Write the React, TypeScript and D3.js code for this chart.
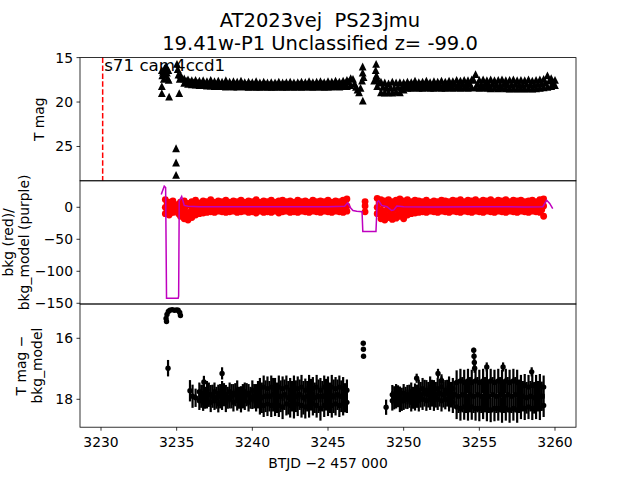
import React from 'react';
import * as d3 from 'd3';

// ---------- axis ticks ----------
const X_TICKS = [3230, 3235, 3240, 3245, 3250, 3255, 3260];
const TOP_TICKS = [15, 20, 25];
const MID_TICKS = [0, -50, -100, -150];
const BOT_TICKS = [16, 18];

const TITLE1 = 'AT2023vej  PS23jmu';
const TITLE2 = '19.41w-P1 Unclassified z= -99.0';
const SECTOR_LABEL = 's71 cam4ccd1';
const SECTOR_START = 3230.11;

// ---------- top panel: T mag (triangles) ----------
const topT = [3234.02, 3234.05, 3234.02, 3234.02, 3234.1, 3234.15, 3234.2, 3234.25, 3234.3, 3234.35, 3234.4, 3234.45, 3234.47, 3234.5,
  3234.96, 3234.96, 3234.96, 3235.02, 3235.07, 3235.12, 3235.17, 3235.2, 3235.27, 3235.35,
  3246.65, 3246.75, 3246.85, 3246.95, 3247.05, 3247.15, 3247.25, 3247.29, 3247.29, 3247.3, 3247.35, 3248.05, 3248.15, 3248.18, 3248.2];
const topM = [16.4, 17.0, 18.2, 19.0, 16.6, 17.4, 16.2, 16.9, 16.0, 16.7, 17.3, 16.4, 17.5, 19.4,
  25.2, 26.8, 28.2, 15.7, 16.3, 16.9, 19.0, 17.4, 17.0, 17.3,
  17.4, 17.9, 18.3, 18.6, 18.9, 18.4, 17.6, 16.0, 16.7, 19.85, 17.2, 17.6, 16.4, 15.7, 17.0];

const topBandT = [3235.5, 3235.75, 3236, 3236.25, 3236.5, 3236.75, 3237, 3237.25, 3237.5, 3237.75, 3238, 3238.25, 3238.5, 3238.75, 3239, 3239.25, 3239.5, 3239.75, 3240, 3240.25, 3240.5, 3240.75, 3241, 3241.25, 3241.5, 3241.75, 3242, 3242.25, 3242.5, 3242.75, 3243, 3243.25, 3243.5, 3243.75, 3244, 3244.25, 3244.5, 3244.75, 3245, 3245.25, 3245.5, 3245.75, 3246, 3246.25, 3246.5,
  3248.25, 3248.5, 3248.75, 3249, 3249.25, 3249.5, 3249.75, 3250, 3250.25, 3250.5, 3250.75, 3251, 3251.25, 3251.5, 3251.75, 3252, 3252.25, 3252.5, 3252.75, 3253, 3253.25, 3253.5, 3253.75, 3254, 3254.25, 3254.5, 3254.75, 3255, 3255.25, 3255.5, 3255.75, 3256, 3256.25, 3256.5, 3256.75, 3257, 3257.25, 3257.5, 3257.75, 3258, 3258.25, 3258.5, 3258.75, 3259, 3259.25, 3259.5, 3259.75, 3260];
const topBandHi = [17.35, 17.45, 17.55, 17.5, 17.6, 17.55, 17.65, 17.5, 17.65, 17.6, 17.7, 17.55, 17.7, 17.65, 17.7, 17.6, 17.75, 17.7, 17.75, 17.65, 17.8, 17.7, 17.8, 17.75, 17.8, 17.7, 17.8, 17.75, 17.7, 17.8, 17.75, 17.7, 17.75, 17.65, 17.75, 17.7, 17.65, 17.75, 17.65, 17.7, 17.6, 17.7, 17.6, 17.5, 17.3,
  17.4, 17.7, 17.8, 17.9, 17.7, 17.8, 17.75, 17.8, 17.7, 17.75, 17.6, 17.75, 17.7, 17.6, 17.75, 17.65, 17.7, 17.6, 17.7, 17.6, 17.65, 17.5, 17.6, 17.5, 17.55, 17.45, 16.85, 17.5, 17.45, 17.55, 17.45, 17.55, 17.5, 17.45, 17.55, 17.5, 17.45, 17.55, 17.5, 17.55, 17.45, 17.6, 17.5, 17.45, 17.4, 17.0, 17.3, 17.5];
const topBandLo = [17.85, 17.95, 18, 18.05, 18.1, 18.1, 18.15, 18.15, 18.2, 18.2, 18.2, 18.25, 18.2, 18.25, 18.25, 18.2, 18.25, 18.3, 18.25, 18.3, 18.3, 18.25, 18.3, 18.3, 18.3, 18.25, 18.3, 18.3, 18.25, 18.3, 18.25, 18.3, 18.25, 18.25, 18.3, 18.25, 18.25, 18.3, 18.25, 18.25, 18.2, 18.25, 18.2, 18.2, 18.1,
  18.2, 18.9, 18.95, 18.9, 18.95, 18.85, 18.9, 18.6, 18.4, 18.4, 18.35, 18.4, 18.4, 18.35, 18.4, 18.4, 18.35, 18.4, 18.4, 18.35, 18.4, 18.35, 18.4, 18.35, 18.4, 18.35, 18.35, 18.4, 18.35, 18.4, 18.45, 18.4, 18.45, 18.4, 18.45, 18.5, 18.45, 18.5, 18.45, 18.5, 18.45, 18.5, 18.45, 18.4, 18.35, 18.3, 18.2, 18.1];
const topT2 = [3235.625, 3235.875, 3236.125, 3236.375, 3236.625, 3236.875, 3237.125, 3237.375, 3237.625, 3237.875, 3238.125, 3238.375, 3238.625, 3238.875, 3239.125, 3239.375, 3239.625, 3239.875, 3240.125, 3240.375, 3240.625, 3240.875, 3241.125, 3241.375, 3241.625, 3241.875, 3242.125, 3242.375, 3242.625, 3242.875, 3243.125, 3243.375, 3243.625, 3243.875, 3244.125, 3244.375, 3244.625, 3244.875, 3245.125, 3245.375, 3245.625, 3245.875, 3246.125, 3246.375,
  3248.375, 3248.625, 3248.875, 3249.125, 3249.375, 3249.625, 3249.875, 3250.125, 3250.375, 3250.625, 3250.875, 3251.125, 3251.375, 3251.625, 3251.875, 3252.125, 3252.375, 3252.625, 3252.875, 3253.125, 3253.375, 3253.625, 3253.875, 3254.125, 3254.375, 3254.625, 3254.875, 3255.125, 3255.375, 3255.625, 3255.875, 3256.125, 3256.375, 3256.625, 3256.875, 3257.125, 3257.375, 3257.625, 3257.875, 3258.125, 3258.375, 3258.625, 3258.875, 3259.125, 3259.375, 3259.625, 3259.875];
const topM2 = [17.6, 17.7, 17.8, 17.85, 17.9, 17.95, 18.0, 17.95, 18.0, 18.05, 18.0, 17.95, 18.05, 18.0, 18.0, 17.95, 18.05, 18.0, 18.05, 18.0, 18.05, 18.0, 18.05, 18.05, 18.0, 18.05, 18.0, 18.05, 18.0, 18.05, 18.0, 18.05, 18.0, 17.95, 18.05, 18.0, 17.95, 18.0, 17.95, 18.0, 17.95, 17.9, 17.85, 17.7,
  17.8, 18.3, 18.4, 18.35, 18.4, 18.3, 18.35, 18.1, 18.05, 18.0, 18.05, 18.0, 18.05, 18.0, 18.05, 18.0, 18.0, 18.05, 18.0, 18.0, 17.95, 18.0, 17.95, 18.0, 17.95, 17.5, 17.95, 18.0, 17.95, 18.0, 17.95, 18.0, 18.05, 17.95, 18.0, 18.05, 17.95, 18.0, 18.05, 17.95, 18.0, 18.05, 17.95, 17.9, 17.8, 17.6, 17.8];

// ---------- middle panel: bkg (red dots) and bkg_model (purple line) ----------
const midT = [3234.25, 3234.5, 3234.75, 3235, 3235.25, 3235.5, 3235.75, 3236, 3236.25, 3236.5, 3236.75, 3237, 3237.25, 3237.5, 3237.75, 3238, 3238.25, 3238.5, 3238.75, 3239, 3239.25, 3239.5, 3239.75, 3240, 3240.25, 3240.5, 3240.75, 3241, 3241.25, 3241.5, 3241.75, 3242, 3242.25, 3242.5, 3242.75, 3243, 3243.25, 3243.5, 3243.75, 3244, 3244.25, 3244.5, 3244.75, 3245, 3245.25, 3245.5, 3245.75, 3246, 3246.25,
  3248.25, 3248.5, 3248.75, 3249, 3249.25, 3249.5, 3249.75, 3250, 3250.25, 3250.5, 3250.75, 3251, 3251.25, 3251.5, 3251.75, 3252, 3252.25, 3252.5, 3252.75, 3253, 3253.25, 3253.5, 3253.75, 3254, 3254.25, 3254.5, 3254.75, 3255, 3255.25, 3255.5, 3255.75, 3256, 3256.25, 3256.5, 3256.75, 3257, 3257.25, 3257.5, 3257.75, 3258, 3258.25, 3258.5, 3258.75, 3259, 3259.25];
const midHi = [12, 8, 10, 3, 8, 10, 6, 9, 11, 7, 10, 9, 12, 8, 10, 9, 11, 8, 10, 9, 11, 8, 10, 9, 12, 8, 10, 9, 11, 8, 10, 11, 9, 10, 8, 11, 9, 10, 8, 11, 9, 10, 9, 11, 8, 10, 9, 11, 13,
  14, 12, 10, 12, 9, 11, 13, 10, 12, 9, 11, 10, 9, 11, 8, 10, 9, 11, 10, 9, 11, 10, 12, 9, 11, 10, 12, 9, 11, 10, 12, 9, 11, 10, 12, 9, 11, 10, 11, 9, 10, 11, 9, 12, 13];
const midMid = [0, -3, 2, -2, -4, -6, -8, -4, -2, -3, 0, -1, 1, 0, 2, 0, 1, -1, 1, 0, 2, 0, 1, 0, 2, 1, 0, 1, 0, 2, 0, 1, 0, 2, 0, 1, 0, 2, 1, 0, 1, 0, 2, 0, 1, 0, 1, 0, 2,
  0, -4, -6, -2, -5, -3, -1, -4, -2, 0, -1, 1, 0, 1, 0, 2, 0, 1, 0, 2, 0, 1, 0, 2, 0, 1, 0, 2, 1, 0, 1, 0, 2, 0, 1, 0, 2, 0, 1, 0, 2, 0, 1, 0, 2];
const midLo = [-10, -12, -8, -6, -14, -18, -20, -16, -12, -10, -9, -8, -7, -8, -6, -7, -8, -7, -6, -8, -7, -6, -8, -7, -9, -6, -8, -7, -8, -6, -9, -7, -6, -8, -7, -8, -6, -7, -8, -6, -7, -8, -6, -7, -8, -6, -7, -8, -6,
  -10, -18, -20, -16, -19, -17, -14, -18, -12, -10, -9, -8, -7, -8, -6, -7, -8, -6, -7, -8, -6, -7, -8, -6, -7, -8, -6, -7, -8, -6, -7, -8, -6, -7, -8, -6, -7, -8, -6, -7, -8, -6, -7, -8, -14];
const midT2 = [3234.375, 3234.625, 3234.875, 3235.125, 3235.375, 3235.625, 3235.875, 3236.125, 3236.375, 3236.625, 3236.875, 3237.125, 3237.375, 3237.625, 3237.875, 3238.125, 3238.375, 3238.625, 3238.875, 3239.125, 3239.375, 3239.625, 3239.875, 3240.125, 3240.375, 3240.625, 3240.875, 3241.125, 3241.375, 3241.625, 3241.875, 3242.125, 3242.375, 3242.625, 3242.875, 3243.125, 3243.375, 3243.625, 3243.875, 3244.125, 3244.375, 3244.625, 3244.875, 3245.125, 3245.375, 3245.625, 3245.875, 3246.125,
  3248.375, 3248.625, 3248.875, 3249.125, 3249.375, 3249.625, 3249.875, 3250.125, 3250.375, 3250.625, 3250.875, 3251.125, 3251.375, 3251.625, 3251.875, 3252.125, 3252.375, 3252.625, 3252.875, 3253.125, 3253.375, 3253.625, 3253.875, 3254.125, 3254.375, 3254.625, 3254.875, 3255.125, 3255.375, 3255.625, 3255.875, 3256.125, 3256.375, 3256.625, 3256.875, 3257.125, 3257.375, 3257.625, 3257.875, 3258.125, 3258.375, 3258.625, 3258.875, 3259.125];
const midA2 = [6, 4, -1, 5, 3, 2, 4, 6, 5, 4, 6, 5, 4, 6, 5, 4, 6, 5, 4, 6, 5, 4, 6, 5, 4, 6, 5, 4, 6, 5, 4, 6, 5, 4, 6, 5, 4, 6, 5, 4, 6, 5, 4, 6, 5, 4, 6, 7,
  7, 5, 4, 6, 3, 5, 7, 4, 6, 5, 4, 6, 5, 4, 6, 5, 4, 6, 5, 4, 6, 5, 4, 6, 5, 4, 6, 5, 4, 6, 5, 4, 6, 5, 4, 6, 5, 4, 6, 5, 4, 6, 5, 7];
const midB2 = [-6, -8, -4, -10, -12, -14, -12, -9, -6, -5, -4, -3, -4, -5, -3, -4, -5, -3, -4, -5, -3, -4, -5, -3, -4, -5, -3, -4, -5, -3, -4, -5, -3, -4, -5, -3, -4, -5, -3, -4, -5, -3, -4, -5, -3, -4, -5, -3,
  -8, -12, -14, -10, -13, -11, -9, -12, -7, -5, -4, -3, -5, -4, -3, -5, -4, -3, -5, -4, -3, -5, -4, -3, -5, -4, -3, -5, -4, -3, -5, -4, -3, -5, -4, -3, -5, -4, -3, -5, -4, -3, -5, -4];
const midExtraT = [3247.45, 3247.45, 3247.45];
const midExtraV = [9, 2, -7];

const modelT = [3233.98, 3234.18, 3234.27, 3234.33, 3235.1, 3235.13, 3235.17, 3235.33, 3235.5, 3235.75, 3236.5, 3240, 3245, 3246.1, 3246.3, 3246.5, 3246.65, 3246.9, 3247.25, 3247.3, 3248.17, 3248.25, 3248.35, 3248.55, 3248.9, 3249.2, 3249.35, 3249.55, 3250, 3252, 3255, 3258, 3259.2, 3259.45, 3259.65, 3259.85];
const modelV = [20, 33, 31, -142, -142, -139, 10, 17, 3, 1.5, 1, 1, 1, 1.5, 7, -1, -5, -6, -7, -38, -38, 8, 10, 3, 1, -5, -4, 2, 1, 0.5, 1, 0.5, 1, 11, 6, -2];

// ---------- bottom panel: T mag - bkg_model (errorbars) ----------
const botT = [3236.5, 3236.75, 3237, 3237.25, 3237.5, 3237.75, 3238, 3238.25, 3238.5, 3238.75, 3239, 3239.25, 3239.5, 3239.75, 3240, 3240.25, 3240.5, 3240.75, 3241, 3241.25, 3241.5, 3241.75, 3242, 3242.25, 3242.5, 3242.75, 3243, 3243.25, 3243.5, 3243.75, 3244, 3244.25, 3244.5, 3244.75, 3245, 3245.25, 3245.5, 3245.75, 3246, 3246.25,
  3249.25, 3249.5, 3249.75, 3250, 3250.25, 3250.5, 3250.75, 3251, 3251.25, 3251.5, 3251.75, 3252, 3252.25, 3252.5, 3252.75, 3253, 3253.25, 3253.5, 3253.75, 3254, 3254.25, 3254.5, 3254.75, 3255, 3255.25, 3255.5, 3255.75, 3256, 3256.25, 3256.5, 3256.75, 3257, 3257.25, 3257.5, 3257.75, 3258, 3258.25, 3258.5, 3258.75, 3259, 3259.25];
const botHi = [17.75, 17.8, 17.7, 17.85, 17.75, 17.8, 17.7, 17.85, 17.75, 17.8, 17.7, 17.85, 17.75, 17.8, 17.7, 17.8, 17.65, 17.6, 17.65, 17.6, 17.7, 17.6, 17.65, 17.6, 17.7, 17.6, 17.65, 17.6, 17.7, 17.6, 17.65, 17.6, 17.7, 17.6, 17.65, 17.6, 17.65, 17.6, 17.65, 17.7,
  17.85, 17.8, 17.9, 17.8, 17.85, 17.75, 17.8, 17.7, 17.65, 17.7, 17.6, 17.7, 17.65, 17.6, 17.7, 17.6, 17.65, 17.45, 17.4, 17.45, 17.4, 17.45, 17.4, 17.45, 17.4, 17.45, 17.4, 17.45, 17.4, 17.45, 17.4, 17.45, 17.4, 17.45, 17.6, 17.55, 17.6, 17.55, 17.6, 17.55, 17.6];
const botLo = [18.05, 18.1, 18, 18.1, 18.05, 18.15, 18.05, 18.1, 18, 18.1, 18.05, 18.15, 18.05, 18.1, 18, 18.1, 18.15, 18.2, 18.15, 18.2, 18.15, 18.2, 18.25, 18.15, 18.2, 18.25, 18.15, 18.2, 18.25, 18.2, 18.15, 18.2, 18.3, 18.2, 18.15, 18.2, 18.15, 18.2, 18.15, 18.1,
  18.05, 18, 18.1, 18.05, 18, 18.1, 18.05, 18.05, 18, 18.05, 18, 18.05, 18, 18.05, 18, 18.05, 18.1, 18.25, 18.3, 18.25, 18.3, 18.25, 18.3, 18.3, 18.25, 18.3, 18.35, 18.3, 18.3, 18.35, 18.3, 18.35, 18.3, 18.35, 18.25, 18.3, 18.25, 18.3, 18.25, 18.3, 18.2];
const botErr = [0.3, 0.28, 0.3, 0.32, 0.3, 0.28, 0.3, 0.32, 0.3, 0.3, 0.32, 0.28, 0.3, 0.3, 0.32, 0.3, 0.35, 0.38, 0.4, 0.38, 0.4, 0.38, 0.4, 0.38, 0.4, 0.38, 0.4, 0.4, 0.38, 0.4, 0.38, 0.4, 0.4, 0.38, 0.4, 0.4, 0.38, 0.38, 0.38, 0.35,
  0.32, 0.3, 0.32, 0.3, 0.32, 0.3, 0.32, 0.35, 0.35, 0.33, 0.35, 0.33, 0.35, 0.35, 0.33, 0.35, 0.35, 0.4, 0.4, 0.42, 0.4, 0.42, 0.4, 0.42, 0.4, 0.42, 0.4, 0.42, 0.4, 0.42, 0.4, 0.42, 0.4, 0.42, 0.4, 0.38, 0.4, 0.38, 0.4, 0.38, 0.38];
const botT2 = [3236.625, 3236.875, 3237.125, 3237.375, 3237.625, 3237.875, 3238.125, 3238.375, 3238.625, 3238.875, 3239.125, 3239.375, 3239.625, 3239.875, 3240.125, 3240.375, 3240.625, 3240.875, 3241.125, 3241.375, 3241.625, 3241.875, 3242.125, 3242.375, 3242.625, 3242.875, 3243.125, 3243.375, 3243.625, 3243.875, 3244.125, 3244.375, 3244.625, 3244.875, 3245.125, 3245.375, 3245.625, 3245.875, 3246.125,
  3249.375, 3249.625, 3249.875, 3250.125, 3250.375, 3250.625, 3250.875, 3251.125, 3251.375, 3251.625, 3251.875, 3252.125, 3252.375, 3252.625, 3252.875, 3253.125, 3253.375, 3253.625, 3253.875, 3254.125, 3254.375, 3254.625, 3254.875, 3255.125, 3255.375, 3255.625, 3255.875, 3256.125, 3256.375, 3256.625, 3256.875, 3257.125, 3257.375, 3257.625, 3257.875, 3258.125, 3258.375, 3258.625, 3258.875, 3259.125];
const botM2 = [17.9, 17.95, 17.85, 17.9, 17.95, 17.9, 17.85, 17.95, 17.9, 17.85, 17.95, 17.9, 17.85, 17.95, 17.9, 17.85, 17.95, 17.9, 17.9, 17.85, 17.95, 17.9, 17.85, 17.95, 17.9, 17.9, 17.85, 17.95, 17.9, 17.85, 17.95, 17.9, 17.9, 17.85, 17.95, 17.9, 17.85, 17.9, 17.95,
  17.95, 17.9, 18.0, 17.95, 17.9, 17.95, 17.9, 17.85, 17.8, 17.85, 17.8, 17.85, 17.8, 17.85, 17.8, 17.85, 17.85, 17.9, 17.85, 17.9, 17.85, 17.9, 17.85, 17.9, 17.85, 17.9, 17.85, 17.9, 17.85, 17.9, 17.85, 17.9, 17.85, 17.9, 17.9, 17.95, 17.9, 17.95, 17.9, 17.9];
const botErr2 = [0.38, 0.36, 0.4, 0.38, 0.36, 0.4, 0.38, 0.36, 0.4, 0.38, 0.36, 0.4, 0.38, 0.36, 0.4, 0.45, 0.5, 0.52, 0.5, 0.55, 0.5, 0.52, 0.5, 0.55, 0.5, 0.52, 0.5, 0.55, 0.5, 0.52, 0.5, 0.55, 0.5, 0.52, 0.5, 0.55, 0.5, 0.52, 0.48,
  0.38, 0.36, 0.38, 0.36, 0.38, 0.36, 0.38, 0.42, 0.44, 0.42, 0.44, 0.42, 0.44, 0.42, 0.44, 0.42, 0.44, 0.55, 0.58, 0.55, 0.58, 0.55, 0.58, 0.55, 0.58, 0.55, 0.58, 0.55, 0.58, 0.55, 0.58, 0.55, 0.58, 0.55, 0.5, 0.52, 0.5, 0.52, 0.5, 0.48];
const botExtraT = [3234.3, 3234.33, 3234.36, 3234.43, 3234.45, 3234.55, 3234.7, 3234.85, 3235.0, 3235.1, 3235.2, 3235.25, 3235.88, 3236.05, 3236.25, 3236.8, 3238.0,
  3247.33, 3247.34, 3247.35, 3248.84, 3250.86, 3252.27, 3252.5, 3254.63, 3254.65, 3254.67, 3254.69, 3255.49, 3256.57, 3258.46];
const botExtraM = [15.35, 15.45, 15.22, 16.98, 15.12, 15.08, 15.06, 15.08, 15.07, 15.08, 15.15, 15.25, 17.72, 17.9, 17.95, 17.43, 17.15,
  16.16, 16.36, 16.59, 18.26, 17.31, 17.15, 17.38, 16.39, 16.59, 16.79, 16.98, 16.94, 16.94, 17.1];
const botExtraErr = [0.03, 0.03, 0.03, 0.27, 0.03, 0.03, 0.03, 0.03, 0.03, 0.03, 0.03, 0.03, 0.35, 0.38, 0.3, 0.2, 0.2,
  0.04, 0.04, 0.04, 0.25, 0.15, 0.15, 0.2, 0.08, 0.1, 0.12, 0.15, 0.15, 0.15, 0.15];

// ---------- layout ----------
const W = 640, H = 480;
const LEFT = 80, RIGHT = 576;
const PANEL = [57.6, 180.8, 304, 427.2];
const FONT = 'DejaVu Sans, sans-serif';
const TICK_FS = 13.9;

const fmt = (v: number) => (v < 0 ? '\u2212' + Math.abs(v) : String(v));

export default function App() {
  const x = d3.scaleLinear().domain([3228.612, 3261.388]).range([LEFT, RIGHT]);
  const yTop = d3.scaleLinear().domain([15, 28.86]).range([PANEL[0], PANEL[1]]);
  const yMid = d3.scaleLinear().domain([41.4, -151.1]).range([PANEL[1], PANEL[2]]);
  const yBot = d3.scaleLinear().domain([14.875, 18.915]).range([PANEL[2], PANEL[3]]);

  const tri = (cx: number, cy: number, s = 3.9) =>
    `M${cx},${cy - s}L${cx - s},${cy + s}L${cx + s},${cy + s}Z`;

  const topPts: [number, number][] = [];
  topBandT.forEach((t, i) => { topPts.push([t, topBandHi[i]]); topPts.push([t, topBandLo[i]]); });
  topT2.forEach((t, i) => topPts.push([t, topM2[i]]));
  topT.forEach((t, i) => topPts.push([t, topM[i]]));

  const midPts: [number, number][] = [];
  midT.forEach((t, i) => { midPts.push([t, midHi[i]]); midPts.push([t, midMid[i]]); midPts.push([t, midLo[i]]); });
  midT2.forEach((t, i) => { midPts.push([t, midA2[i]]); midPts.push([t, midB2[i]]); });
  midExtraT.forEach((t, i) => midPts.push([t, midExtraV[i]]));

  const botPts: [number, number, number][] = [];
  botT.forEach((t, i) => { botPts.push([t, botHi[i], botErr[i]]); botPts.push([t, botLo[i], botErr[i]]); });
  botT2.forEach((t, i) => botPts.push([t, botM2[i], botErr2[i]]));
  botExtraT.forEach((t, i) => botPts.push([t, botExtraM[i], botExtraErr[i]]));

  const modelLine = d3.line<number>().x((_, i) => x(modelT[i])).y((v) => yMid(v))(modelV) || '';

  const yTicks = (ticks: number[], scale: d3.ScaleLinear<number, number>) =>
    ticks.map((v) => (
      <g key={v}>
        <line x1={LEFT - 3.5} x2={LEFT} y1={scale(v)} y2={scale(v)} stroke="black" strokeWidth={0.8} />
        <text x={LEFT - 7} y={scale(v)} dy="0.36em" textAnchor="end" fontSize={TICK_FS}>{fmt(v)}</text>
      </g>
    ));

  return (
    <svg width={W} height={H} style={{ position: 'absolute', left: 0, top: 0, background: 'white' }} fontFamily={FONT}>
      <rect width={W} height={H} fill="white" />
      {/* titles */}
      <text x={320} y={27} textAnchor="middle" fontSize={19.5} style={{ whiteSpace: 'pre' }}>{TITLE1}</text>
      <text x={320} y={50} textAnchor="middle" fontSize={19.5} style={{ whiteSpace: 'pre' }}>{TITLE2}</text>

      {/* top panel */}
      <g>
        {topPts.map(([t, m], i) => <path key={i} d={tri(x(t), yTop(m))} fill="black" />)}
        <line x1={x(SECTOR_START)} x2={x(SECTOR_START)} y1={PANEL[0]} y2={PANEL[1]} stroke="red" strokeWidth={1.5} strokeDasharray="5.5,2.4" />
        <text x={x(SECTOR_START) + 1.5} y={70.5} fontSize={16.7}>{SECTOR_LABEL}</text>
        {yTicks(TOP_TICKS, yTop)}
      </g>

      {/* middle panel */}
      <g>
        {midPts.map(([t, v], i) => <circle key={i} cx={x(t)} cy={yMid(v)} r={3.4} fill="red" />)}
        <path d={modelLine} fill="none" stroke="#bf00bf" strokeWidth={1.5} />
        {yTicks(MID_TICKS, yMid)}
      </g>

      {/* bottom panel */}
      <g>
        {botPts.map(([t, m, e], i) => (
          <g key={i}>
            <line x1={x(t)} x2={x(t)} y1={yBot(m - e)} y2={yBot(m + e)} stroke="black" strokeWidth={2.2} />
            <circle cx={x(t)} cy={yBot(m)} r={2.7} fill="black" />
          </g>
        ))}
        {yTicks(BOT_TICKS, yBot)}
        {X_TICKS.map((v) => (
          <g key={v}>
            <line x1={x(v)} x2={x(v)} y1={PANEL[3]} y2={PANEL[3] + 3.5} stroke="black" strokeWidth={0.8} />
            <text x={x(v)} y={447} textAnchor="middle" fontSize={TICK_FS}>{v}</text>
          </g>
        ))}
      </g>

      {/* frames */}
      {[0, 1, 2].map((k) => (
        <rect key={k} x={LEFT} y={PANEL[k]} width={RIGHT - LEFT} height={PANEL[k + 1] - PANEL[k]} fill="none" stroke="black" strokeWidth={0.8} />
      ))}

      {/* axis labels */}
      <text x={328} y={468} textAnchor="middle" fontSize={TICK_FS}>BTJD {'\u2212'}2 457 000</text>
      <text transform={`translate(44,${(PANEL[0] + PANEL[1]) / 2}) rotate(-90)`} textAnchor="middle" fontSize={TICK_FS}>T mag</text>
      <text transform={`translate(13,${(PANEL[1] + PANEL[2]) / 2}) rotate(-90)`} textAnchor="middle" fontSize={TICK_FS}>bkg (red)/</text>
      <text transform={`translate(29,${(PANEL[1] + PANEL[2]) / 2}) rotate(-90)`} textAnchor="middle" fontSize={TICK_FS}>bkg_model (purple)</text>
      <text transform={`translate(26,${(PANEL[2] + PANEL[3]) / 2}) rotate(-90)`} textAnchor="middle" fontSize={TICK_FS}>T mag {'\u2212'}</text>
      <text transform={`translate(42,${(PANEL[2] + PANEL[3]) / 2}) rotate(-90)`} textAnchor="middle" fontSize={TICK_FS}>bkg_model</text>
    </svg>
  );
}
